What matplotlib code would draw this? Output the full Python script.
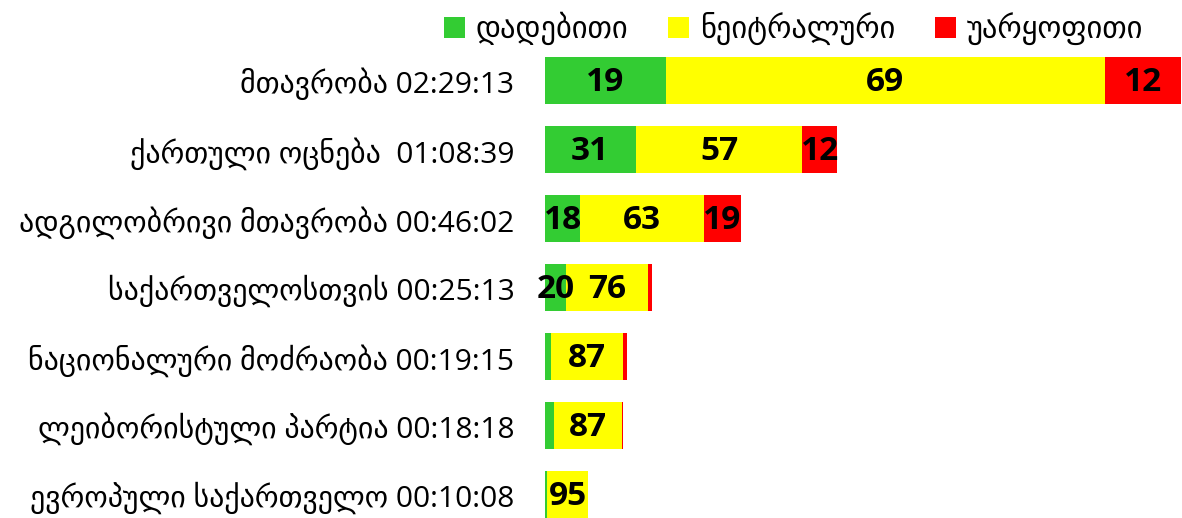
import matplotlib
matplotlib.use("Agg")
import matplotlib.pyplot as plt
from matplotlib.patches import Patch
import numpy as np

# party names and speaking time (hh:mm:ss)
parties = ["მთავრობა", "ქართული ოცნება ", "ადგილობრივი მთავრობა",
           "საქართველოსთვის", "ნაციონალური მოძრაობა",
           "ლეიბორისტული პარტია", "ევროპული საქართველო"]
durations = ["02:29:13", "01:08:39", "00:46:02", "00:25:13",
             "00:19:15", "00:18:18", "00:10:08"]

# tone shares, percent
positive = [19, 31, 18, 20, 8, 12, 5]
neutral = [69, 57, 63, 76, 87, 87, 95]
negative = [12, 12, 19, 4, 5, 1, 0]

series_names = ["დადებითი", "ნეიტრალური", "უარყოფითი"]
colors = ["#33CC33", "#FFFF00", "#FF0000"]

plt.rcParams['font.family'] = ['Open Sans', 'DejaVu Sans']


def to_seconds(s):
    h, m, sec = s.split(":")
    return int(h) * 3600 + int(m) * 60 + int(sec)


total = np.array([to_seconds(d) for d in durations], dtype=float)
shares = np.array([positive, neutral, negative], dtype=float)

fig = plt.figure(figsize=(11.82, 5.18), dpi=100)
ax = fig.add_axes([0.461, -0.021, 0.538, 0.932])

y = np.arange(len(parties))
left = np.zeros(len(parties))
for k in range(3):
    widths = total * shares[k] / 100.0
    ax.barh(y, widths, left=left, height=0.69, color=colors[k])
    for i in range(len(parties)):
        # only label segments wide enough to hold text
        if widths[i] > 250:
            ax.text(left[i] + widths[i] / 2, y[i] + 0.03, "%d" % shares[k][i],
                    ha="center", va="center", fontsize=24,
                    fontweight="bold", color="black")
    left += widths

ax.set_xlim(0, total.max())
ax.set_ylim(len(parties) - 0.5, -0.5)
ax.set_yticks(y)
ax.set_yticklabels(["%s %s" % (p, d) for p, d in zip(parties, durations)],
                   fontsize=21.5)
ax.tick_params(axis="y", length=0, pad=22)
ax.set_xticks([])
for sp in ax.spines.values():
    sp.set_visible(False)

handles = [Patch(facecolor=c) for c in colors]
fig.legend(handles, series_names, loc="upper left",
           bbox_to_anchor=(0.352, 1.03), ncol=3, frameon=False,
           fontsize=22, handlelength=0.7, handleheight=0.7,
           handletextpad=0.35, columnspacing=1.3)

fig.savefig("out.png", dpi=100)
